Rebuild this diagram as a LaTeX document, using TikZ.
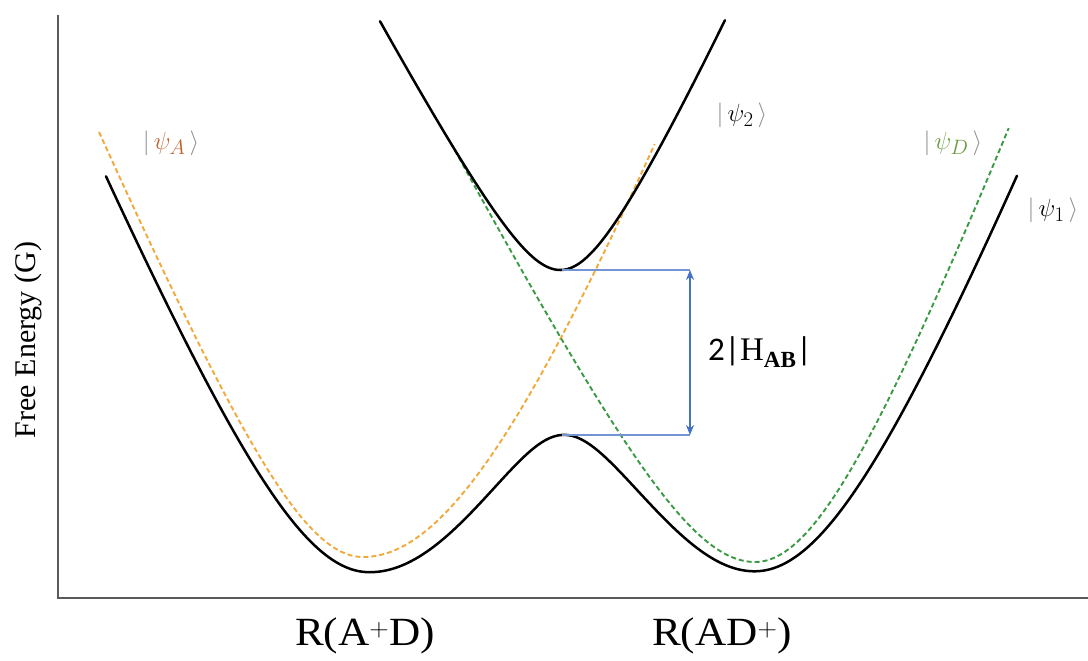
\documentclass[tikz,border=0pt]{standalone}
\usepackage{fontspec}
\setmainfont{Liberation Serif}
\newfontfamily\calib{Carlito}
\usetikzlibrary{arrows.meta}
\definecolor{axisgray}{HTML}{5A5A5A}
\definecolor{orA}{HTML}{F2A93A}
\definecolor{grD}{HTML}{3A9A44}
\definecolor{labA}{HTML}{C0622B}
\definecolor{labD}{HTML}{6A9A40}
\definecolor{ketgray}{HTML}{8C8C8C}
\definecolor{hblue}{HTML}{4472C4}
\tikzset{
  declare function={
    hypf(\ta,\pa,\pb,\pc,\pd)=(\ta<0)*(sqrt(\pa*\pa+\pb*\pb*\ta*\ta)-\pa)+(\ta>=0)*(sqrt(\pc*\pc+\pd*\pd*\ta*\ta)-\pc);
    gab(\xa)=0.40+hypf(\xa-3.67,2.966,2.39,3.846,2.309);
    gdb(\xa)=0.40+hypf(\xa-7.57,2.318,1.914,3.488,2.518);
    emin(\xa)=(gab(\xa)+gdb(\xa))/2-sqrt(((gab(\xa)-gdb(\xa))/2)^2+0.825^2);
    eplus(\xa)=(gab(\xa)+gdb(\xa))/2+sqrt(((gab(\xa)-gdb(\xa))/2)^2+0.825^2);
    dia(\xa)=0.43+hypf(\xa-3.63,2.48,2.37,5.226,2.66);
    did(\xa)=0.38+hypf(\xa-7.55,2.0,1.926,3.0,2.64);
  },
  axisline/.style={draw=axisgray, line width=2.6pt},
  adiab/.style={draw=black, line width=2.5pt, line cap=round, line join=round},
  diabA/.style={draw=orA, line width=1.9pt, dash pattern=on 5pt off 3pt},
  diabD/.style={draw=grD, line width=1.9pt, dash pattern=on 5pt off 3pt},
  coupling/.style={draw=hblue!75, line width=2pt},
  gaparrow/.style={draw=hblue, line width=2.6pt, {Stealth[length=10pt,width=8pt]}-{Stealth[length=10pt,width=8pt]}},
  ketlabel/.style={inner sep=0pt, font=\fontsize{32}{36}\selectfont},
  axislabel/.style={inner sep=0pt, xscale=1.08, font=\fontsize{40}{44}\selectfont},
}
\begin{document}
\begin{tikzpicture}[x=1pt,y=-1pt]
\useasboundingbox (0,0) rectangle (1088,661);
% axes
\coordinate (ytop) at (58,15);
\coordinate (orig) at (58,598);
\coordinate (xend) at (1088,598);
\draw[axisline] (ytop) -- (orig) -- (xend);
% diabatic curves
\draw[diabA] plot[domain=0.99:6.55, samples=220, variable=\xa] ({100*\xa},{600-100*dia(\xa)});
\draw[diabD] plot[domain=4.51:10.09, samples=220, variable=\xa] ({100*\xa},{600-100*did(\xa)});
% adiabatic curves
\draw[adiab] plot[domain=1.06:10.17, samples=360, variable=\xa] ({100*\xa},{600-100*emin(\xa)});
\draw[adiab] plot[domain=3.80:7.25, samples=200, variable=\xa] ({100*\xa},{600-100*eplus(\xa)});
% coupling gap
\coordinate (p2min) at (562,270);
\coordinate (p1max) at (562,435);
\coordinate (atop) at (690,270);
\coordinate (abot) at (690,435);
\draw[coupling] (p2min) -- (atop);
\draw[coupling] (p1max) -- (abot);
\draw[gaparrow] (atop) -- (abot);
\node[inner sep=0pt, anchor=west, font=\fontsize{33}{36}\selectfont] (hab) at (708,352) {{\calib 2|}H\textsubscript{\bfseries AB}{\calib |}};
% state labels
\node[ketlabel] (psiA) at (171,143) {\textcolor{ketgray}{$|$}$\,$\textcolor{labA}{$\psi_A$}$\,$\textcolor{ketgray}{$\rangle$}};
\node[ketlabel] (psi2) at (742,115) {\textcolor{ketgray}{$|$}$\,\psi_2\,$\textcolor{ketgray}{$\rangle$}};
\node[ketlabel] (psiD) at (953,143) {\textcolor{ketgray}{$|$}$\,$\textcolor{labD}{$\psi_D$}$\,$\textcolor{ketgray}{$\rangle$}};
\node[ketlabel] (psi1) at (1053,210) {\textcolor{ketgray}{$|$}$\,\psi_1\,$\textcolor{ketgray}{$\rangle$}};
% axis labels
\node[rotate=90, inner sep=0pt, font=\fontsize{30}{34}\selectfont] (ylab) at (28,340) {Free Energy (G)};
\node[axislabel] (xlabA) at (365,636) {R(A$^{+}$D)};
\node[axislabel] (xlabD) at (722,636) {R(AD$^{+}$)};
\end{tikzpicture}
\end{document}
